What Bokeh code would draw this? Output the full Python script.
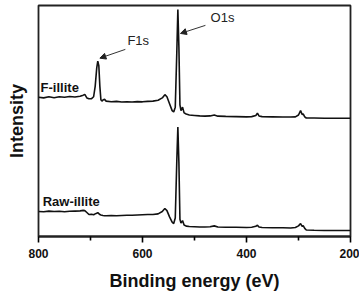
from bokeh.plotting import figure
from bokeh.models import (Range1d, FixedTicker, Label, Arrow, NormalHead,
                          ColumnDataSource)
from bokeh.embed import file_html
from bokeh.resources import INLINE

# XPS survey spectra (binding energy in eV, intensity in arbitrary units, offset)
energy = [800, 790, 780, 770, 760, 750, 740, 730, 720, 714, 711, 707, 703, 698,
          694, 691, 688, 686, 684, 682, 680, 678, 676, 673, 670, 660, 650, 640,
          630, 620, 610, 600, 590, 580, 570, 562, 557, 553, 548, 543, 540, 537,
          534, 532, 530, 528, 526, 523, 520, 516, 510, 500, 490, 480, 470, 462,
          455, 440, 420, 400, 390, 382, 379, 376, 370, 350, 330, 315, 306, 300,
          296, 293, 291, 288, 285, 270, 250, 230, 200]

f_illite = [603, 600, 605, 601, 605, 603, 606, 604, 607, 612, 615, 600, 596, 597,
            605, 650, 730, 759, 740, 650, 592, 586, 591, 594, 586, 583, 585, 582,
            583, 582, 584, 583, 585, 586, 590, 600, 614, 605, 575, 545, 539, 560,
            800, 983, 820, 570, 545, 560, 535, 530, 526, 524, 522, 521, 522, 526,
            521, 520, 519, 518, 519, 524, 534, 522, 519, 518, 517, 517, 518, 526,
            545, 528, 531, 518, 513, 513, 512, 512, 512]

raw_illite = [108, 107, 110, 108, 109, 107, 109, 110, 111, 113, 112, 104, 95, 96,
              94, 98, 101, 103, 99, 95, 93, 92, 91, 90, 90, 91, 90, 91,
              92, 92, 93, 94, 95, 95, 98, 108, 121, 112, 85, 62, 56, 80,
              330, 474, 320, 75, 58, 69, 50, 45, 43, 42, 41, 41, 42, 46,
              41, 40, 40, 39, 40, 44, 49, 41, 39, 38, 38, 37, 39, 46,
              56, 44, 47, 35, 28, 27, 26, 26, 26]

major_ticks = [800, 600, 400, 200]
minor_ticks = [700, 500, 300]

src = ColumnDataSource(dict(energy=energy, f=f_illite, raw=raw_illite))

p = figure(width=359, height=293, output_backend="svg", toolbar_location=None,
           x_range=Range1d(800, 200), y_range=Range1d(0, 1000),
           min_border_left=38, min_border_right=9, min_border_top=5,
           min_border_bottom=56)

p.line("energy", "f", source=src, line_color="#111111", line_width=1.6)
p.line("energy", "raw", source=src, line_color="#111111", line_width=1.6)

p.xgrid.visible = False
p.ygrid.visible = False
p.background_fill_color = "white"
p.border_fill_color = "white"
p.outline_line_color = "#222222"
p.outline_line_width = 1.8

# bottom axis
xa = p.xaxis[0]
xa.ticker = FixedTicker(ticks=major_ticks, minor_ticks=minor_ticks)
xa.axis_line_color = "#222222"
xa.axis_line_width = 1.8
xa.major_tick_in = 0
xa.major_tick_out = 6
xa.minor_tick_in = 0
xa.minor_tick_out = 4
xa.major_tick_line_width = 1.6
xa.minor_tick_line_width = 1.6
xa.major_label_text_font = "Liberation Sans"
xa.major_label_text_font_style = "bold"
xa.major_label_text_font_size = "12px"
xa.major_label_text_color = "#111111"
xa.major_label_standoff = 6
xa.axis_label = "Binding energy (eV)"
xa.axis_label_text_font = "Liberation Sans"
xa.axis_label_text_font_style = "bold"
xa.axis_label_text_font_size = "18px"
xa.axis_label_text_color = "#111111"
xa.axis_label_standoff = 10

# left axis: title only
ya = p.yaxis[0]
ya.ticker = FixedTicker(ticks=[])
ya.axis_line_color = None
ya.major_tick_line_color = None
ya.minor_tick_line_color = None
ya.axis_label = "Intensity"
ya.axis_label_text_font = "Liberation Sans"
ya.axis_label_text_font_style = "bold"
ya.axis_label_text_font_size = "18px"
ya.axis_label_text_color = "#111111"
ya.axis_label_standoff = 12

# sample labels
for x, y, t in [(796, 647, "F-illite"), (792, 151, "Raw-illite")]:
    p.add_layout(Label(x=x, y=y, text=t, text_font="Liberation Sans",
                       text_font_style="bold", text_font_size="13px",
                       text_color="#111111", text_baseline="middle"))

# peak annotations
for x, y, t in [(629, 849, "F1s"), (469, 948, "O1s")]:
    p.add_layout(Label(x=x, y=y, text=t, text_font="Liberation Sans",
                       text_font_size="13px", text_color="#222222",
                       text_baseline="middle"))

for x0, y0, x1, y1 in [(633, 810, 682, 772), (479, 914, 527, 879)]:
    p.add_layout(Arrow(x_start=x0, y_start=y0, x_end=x1, y_end=y1,
                       line_color="#333333", line_width=1,
                       end=NormalHead(size=6, fill_color="#222222",
                                      line_color="#222222")))

open("out.html", "w").write(file_html(p, INLINE))
